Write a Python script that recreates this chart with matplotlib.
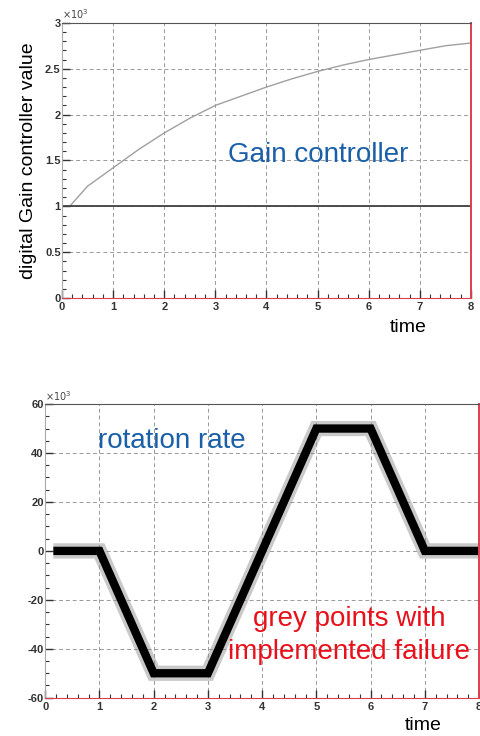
import matplotlib.pyplot as plt
from matplotlib.ticker import MultipleLocator

# gain controller (values in units of 10^3)
gain_time = [0.15, 0.5, 1, 1.5, 2, 2.5, 3, 3.5, 4, 4.5, 5, 5.5, 6, 6.5, 7, 7.5, 8]
gain_value = [1.0, 1.22, 1.42, 1.62, 1.8, 1.96, 2.1, 2.2, 2.3, 2.39, 2.47, 2.54, 2.6, 2.65, 2.7, 2.75, 2.78]
ref_time = [0, 8]
ref_value = [1.0, 1.0]

# rotation rate (units of 10^3)
rate_time = [0.15, 1, 2, 3, 5, 6, 7, 8]
rate_value = [0, 0, -50, -50, 50, 50, 0, 0]

BLUE = "#1a5fa8"
RED = "#e8101a"


def style_axes(ax, xmaj, xmin, ymaj, ymin):
    ax.xaxis.set_major_locator(MultipleLocator(xmaj))
    ax.xaxis.set_minor_locator(MultipleLocator(xmin))
    ax.yaxis.set_major_locator(MultipleLocator(ymaj))
    ax.yaxis.set_minor_locator(MultipleLocator(ymin))
    ax.tick_params(which="both", direction="in", top=False, right=False,
                   labelsize=8, colors="#333333")
    ax.tick_params(axis="y", pad=1)
    ax.tick_params(axis="x", pad=3)
    ax.tick_params(which="major", length=6, width=1.0)
    ax.tick_params(which="minor", length=3, width=0.8)
    for lbl in ax.get_xticklabels() + ax.get_yticklabels():
        lbl.set_fontweight("bold")
    ax.grid(True, which="major", color="#999999", linestyle=(0, (4, 3)), linewidth=0.7)
    ax.spines["left"].set_color("#aaaaaa")
    ax.spines["top"].set_color("#555555")
    ax.spines["bottom"].set_color("#d84050")
    ax.spines["right"].set_color("#d84050")
    ax.spines["right"].set_linewidth(1.4)


fig = plt.figure(figsize=(4.81, 7.36), dpi=100)
plt.rcParams["font.family"] = ["Liberation Sans", "DejaVu Sans"]

ax1 = fig.add_axes([0.129, 0.595, 0.850, 0.374])
ax1.plot(gain_time, gain_value, color="#a0a0a0", linewidth=1.0)
ax1.plot(ref_time, ref_value, color="#404040", linewidth=1.3)
ax1.set_xlim(0, 8)
ax1.set_ylim(0, 3)
style_axes(ax1, 1, 0.2, 0.5, 0.1)
ax1.yaxis.set_major_formatter(plt.FuncFormatter(lambda v, p: f"{v:g}"))
ax1.set_ylabel("digital Gain controller value", fontsize=14, labelpad=6)
ax1.text(0.0, 1.005, r"$\times10^3$", transform=ax1.transAxes, fontsize=7,
         color="#444444", va="bottom", ha="left")
ax1.text(3.25, 1.56, "Gain controller", color=BLUE, fontsize=20, va="center", ha="left")
fig.text(408 / 481, 1 - 328 / 736, "time", fontsize=14, ha="center", va="center")

ax2 = fig.add_axes([0.094, 0.052, 0.902, 0.399])
ax2.plot(rate_time, rate_value, color="#888888", linewidth=11, alpha=0.45,
         solid_joinstyle="miter", solid_capstyle="butt")
ax2.plot(rate_time, rate_value, color="black", linewidth=6,
         solid_joinstyle="miter", solid_capstyle="butt")
ax2.set_xlim(0, 8)
ax2.set_ylim(-60, 60)
style_axes(ax2, 1, 0.2, 20, 5)
ax2.yaxis.set_major_formatter(plt.FuncFormatter(lambda v, p: f"{v:g}"))
ax2.text(0.0, 1.005, r"$\times10^3$", transform=ax2.transAxes, fontsize=7,
         color="#444444", va="bottom", ha="left")
ax2.text(0.98, 45, "rotation rate", color=BLUE, fontsize=20, va="center", ha="left")
ax2.text(5.6, -34.7, "grey points with\nimplemented failure", color=RED, fontsize=20,
         va="center", ha="center", linespacing=1.35)
fig.text(423 / 481, 1 - 725 / 736, "time", fontsize=14, ha="center", va="center")

fig.savefig("out.png", dpi=100)
